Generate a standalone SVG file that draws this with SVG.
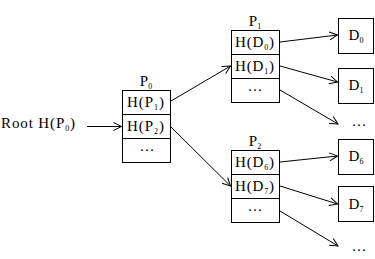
<svg xmlns="http://www.w3.org/2000/svg" width="375" height="259" viewBox="0 0 375 259">
<style>
text{font-family:"Liberation Serif","Times New Roman",serif;font-size:15px;fill:#000}
.sub{font-size:8px}
.box{fill:#fff;stroke:#000;stroke-width:1}
.ln{stroke:#000;stroke-width:1}
.c{stroke:#000;stroke-width:1;fill:none;marker-end:url(#ah)}
.m{text-anchor:middle}
</style>
<defs>
<marker id="ah" markerWidth="10" markerHeight="10" refX="9" refY="5" orient="auto" markerUnits="userSpaceOnUse">
<path d="M1,1 L9,5 L1,9" fill="none" stroke="#000" stroke-width="1"/>
</marker>
</defs>
<rect width="375" height="259" fill="#fff"/>
<g id="root">
<text x="1" y="128" textLength="74" lengthAdjust="spacing">Root H(P<tspan class="sub" dy="3">0</tspan><tspan dy="-3">)</tspan></text>
</g>
<g id="P0">
<text class="m" x="146" y="86">P<tspan class="sub" dy="3">0</tspan></text>
<rect class="box" x="122.5" y="90.5" width="48" height="72"/>
<line class="ln" x1="122.5" y1="114.5" x2="170.5" y2="114.5"/>
<line class="ln" x1="122.5" y1="138.5" x2="170.5" y2="138.5"/>
<text x="127" y="107" textLength="37" lengthAdjust="spacing">H(P<tspan class="sub" dy="3">1</tspan><tspan dy="-3">)</tspan></text>
<text x="127" y="131" textLength="37" lengthAdjust="spacing">H(P<tspan class="sub" dy="3">2</tspan><tspan dy="-3">)</tspan></text>
<text class="m" x="147" y="151">…</text>
</g>
<g id="P1">
<text class="m" x="255" y="26">P<tspan class="sub" dy="3">1</tspan></text>
<rect class="box" x="231.5" y="30.5" width="48" height="72"/>
<line class="ln" x1="231.5" y1="54.5" x2="279.5" y2="54.5"/>
<line class="ln" x1="231.5" y1="78.5" x2="279.5" y2="78.5"/>
<text x="235" y="47" textLength="39" lengthAdjust="spacing">H(D<tspan class="sub" dy="3">0</tspan><tspan dy="-3">)</tspan></text>
<text x="235" y="71" textLength="39" lengthAdjust="spacing">H(D<tspan class="sub" dy="3">1</tspan><tspan dy="-3">)</tspan></text>
<text class="m" x="255" y="91">…</text>
</g>
<g id="P2">
<text class="m" x="255" y="146">P<tspan class="sub" dy="3">2</tspan></text>
<rect class="box" x="231.5" y="150.5" width="48" height="72"/>
<line class="ln" x1="231.5" y1="174.5" x2="279.5" y2="174.5"/>
<line class="ln" x1="231.5" y1="198.5" x2="279.5" y2="198.5"/>
<text x="235" y="167" textLength="39" lengthAdjust="spacing">H(D<tspan class="sub" dy="3">6</tspan><tspan dy="-3">)</tspan></text>
<text x="235" y="191" textLength="39" lengthAdjust="spacing">H(D<tspan class="sub" dy="3">7</tspan><tspan dy="-3">)</tspan></text>
<text class="m" x="255" y="211">…</text>
</g>
<g id="D0">
<rect class="box" x="338.5" y="18.5" width="35" height="35"/>
<text class="m" x="356" y="40">D<tspan class="sub" dy="3">0</tspan></text>
</g>
<g id="D1">
<rect class="box" x="338.5" y="68.5" width="35" height="35"/>
<text class="m" x="356" y="90">D<tspan class="sub" dy="3">1</tspan></text>
</g>
<g id="D6">
<rect class="box" x="338.5" y="139.5" width="35" height="35"/>
<text class="m" x="356" y="161">D<tspan class="sub" dy="3">6</tspan></text>
</g>
<g id="D7">
<rect class="box" x="338.5" y="186.5" width="35" height="35"/>
<text class="m" x="356" y="209">D<tspan class="sub" dy="3">7</tspan></text>
</g>
<g id="more1"><text class="m" x="359" y="126">…</text></g>
<g id="more2"><text class="m" x="359" y="251">…</text></g>
<g id="connectors">
<line class="c" x1="87" y1="126.5" x2="121.5" y2="126.5"/>
<line class="c" x1="171" y1="101" x2="230.5" y2="66"/>
<line class="c" x1="171" y1="127" x2="230.5" y2="186"/>
<line class="c" x1="280" y1="42" x2="337.5" y2="35"/>
<line class="c" x1="280" y1="66" x2="337.5" y2="82"/>
<line class="c" x1="280" y1="90" x2="338" y2="124"/>
<line class="c" x1="280" y1="162" x2="337.5" y2="156"/>
<line class="c" x1="280" y1="186" x2="337.5" y2="204"/>
<line class="c" x1="280" y1="211" x2="338" y2="246"/>
</g>
</svg>
